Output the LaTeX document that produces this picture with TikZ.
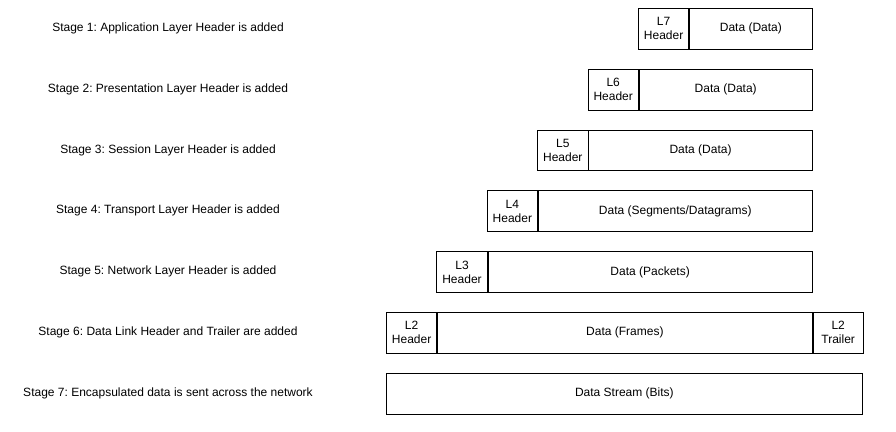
\documentclass[tikz,border=0pt]{standalone}
\usepackage{fontspec}
\setmainfont{Liberation Sans}
\usetikzlibrary{positioning}
\tikzset{
    hdr/.style={draw,line width=0.8pt,minimum width=50.4pt,minimum height=40.8pt,inner sep=0pt,align=center,anchor=north west},
    dat/.style={draw,line width=0.8pt,minimum height=40.8pt,inner sep=0pt,anchor=north west},
    stage/.style={inner sep=0pt}
}
\begin{document}
\frenchspacing
\begin{tikzpicture}[x=1pt,y=-1pt,font=\fontsize{12}{14}\selectfont]
        \useasboundingbox (0,0) rectangle (896,431);

        % stages 1-5: header grows to the left
        \foreach \i/\txt/\lbl in {7/{Data (Data)}/{Application Layer Header is added},
                                  6/{Data (Data)}/{Presentation Layer Header is added},
                                  5/{Data (Data)}/{Session Layer Header is added},
                                  4/{Data (Segments/Datagrams)}/{Transport Layer Header is added},
                                  3/{Data (Packets)}/{Network Layer Header is added}} {
            \pgfmathsetmacro\k{7-\i}
            \pgfmathtruncatemacro\s{8-\i}
            \pgfmathsetmacro\ytop{8+60.8*\k}
            \pgfmathsetmacro\hx{638-50.4*\k}
            \pgfmathsetmacro\dw{811-\hx-50.4}
            \node[hdr] (H\i) at (\hx,\ytop) {L\i\\Header};
            \node[dat,minimum width=\dw pt] (D\i) at (H\i.north east) {\txt};
            \node[stage] (S\s) at (168,\ytop+20.4) {Stage \s: \lbl};
        }

        % stage 6
        \node[hdr] (H2) at (386,312) {L2\\Header};
        \node[dat,minimum width=374.6pt] (D2) at (H2.north east) {Data (Frames)};
        \node[hdr] (T2) at (D2.north east) {L2\\Trailer};
        \node[stage] (S6) at (168,332.4) {Stage 6: Data Link Header and Trailer are added};

        % stage 7
        \node[dat,minimum width=476pt] (B1) at (386,372.8) {Data Stream (Bits)};
        \node[stage] (S7) at (168,393.2) {Stage 7: Encapsulated data is sent across the network};

    \end{tikzpicture}
\end{document}
